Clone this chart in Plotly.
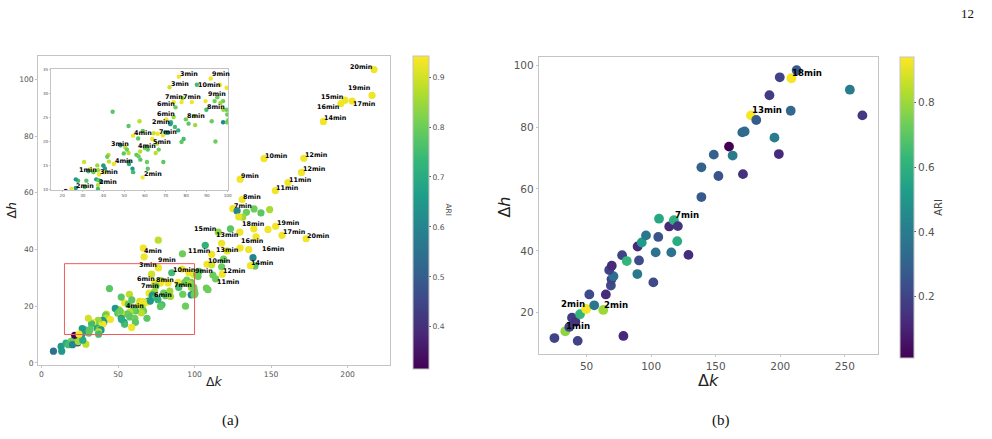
import plotly.graph_objects as go

W, H = 992, 439

# ---------------- panel (a) data ----------------
# points outside the zoom window (upper / right part)
up_dk = [217.3, 216.0, 203.0, 198.3, 195.7, 184.2, 145.4, 171.4, 169.9, 161.0,
         152.8, 129.8, 131.1, 125.0, 127.8, 133.9, 131.5, 128.9, 138.9, 143.4,
         149.1, 123.5, 115.5, 129.6, 138.7, 140.2, 148.0, 153.0, 157.1, 172.9,
         117.7, 129.8, 135.4, 121.3, 111.2, 107.0, 92.1, 76.3, 66.5, 67.0,
         138.2, 139.5, 136.5, 119.0, 108.1, 111.2, 117.7, 118.1, 113.8, 102.9,
         112.0, 102.3, 107.7, 108.8, 100.3, 101.4]
up_dh = [103.5, 94.4, 92.4, 92.7, 91.5, 85.2, 72.1, 72.2, 67.2, 63.6,
         60.8, 64.8, 57.6, 54.4, 53.6, 53.1, 51.4, 51.5, 54.3, 52.9,
         54.1, 47.3, 46.1, 46.1, 47.3, 44.5, 47.1, 48.2, 45.0, 43.8,
         42.2, 40.5, 40.0, 39.5, 38.3, 41.5, 38.5, 43.3, 40.5, 37.4,
         37.1, 34.2, 34.3, 36.6, 34.8, 34.6, 33.9, 31.3, 29.6, 32.3,
         31.0, 30.5, 26.4, 25.8, 24.4, 31.2]
up_ari = [0.93, 0.93, 0.93, 0.93, 0.93, 0.93, 0.93, 0.93, 0.93, 0.93,
          0.93, 0.93, 0.93, 0.93, 0.60, 0.80, 0.85, 0.92, 0.80, 0.78,
          0.86, 0.78, 0.84, 0.93, 0.93, 0.93, 0.93, 0.93, 0.93, 0.93,
          0.93, 0.93, 0.93, 0.93, 0.93, 0.72, 0.80, 0.88, 0.93, 0.93,
          0.60, 0.78, 0.93, 0.80, 0.93, 0.90, 0.80, 0.93, 0.80, 0.78,
          0.80, 0.80, 0.80, 0.80, 0.80, 0.80]
up_lab_idx = [0, 1, 2, 3, 4, 5, 6, 7, 8, 9, 10, 11, 12, 13, 22, 23, 24, 27, 28, 29,
              31, 32, 33, 34, 38, 42, 44, 47, 48]
up_lab_txt = ["20min", "19min", "17min", "15min", "16min", "14min", "10min", "12min", "12min", "11min",
              "11min", "9min", "8min", "7min", "15min", "13min", "18min", "19min", "17min", "20min",
              "16min", "16min", "13min", "11min", "4min", "14min", "10min", "12min", "11min"]

# points below the zoom window
lo_dk = [7.8, 12.8, 13.2, 16.0, 19.3, 17.5, 21.4, 23.6, 20.3, 29.0, 25.8, 24.0, 27.0, 21.7]
lo_dh = [4.1, 5.8, 4.1, 7.0, 7.6, 6.4, 8.4, 7.0, 6.4, 6.6, 8.9, 7.5, 8.0, 9.7]
lo_ari = [0.55, 0.65, 0.65, 0.70, 0.80, 0.75, 0.80, 0.45, 0.60, 0.88, 0.78, 0.85, 0.70, 0.32]

# points inside the zoom window (15<dk<100, 10<dh<35)
in_dk = [76.4, 91.8, 71.9, 85.1, 96.3, 99.5, 73.9, 78.2, 77.7, 82.7,
         89.3, 93.7, 95.0, 97.8, 96.5, 74.8, 89.7, 97.9, 99.5, 99.8,
         70.3, 73.9, 79.8, 83.8, 81.1, 84.3, 92.3, 97.8, 99.7, 72.6,
         72.3, 74.5, 76.1, 54.3, 56.7, 64.3, 66.2, 69.7, 68.7, 71.1,
         78.7, 77.7, 94.1, 63.6, 65.9, 66.7, 65.2, 68.9, 60.9, 61.4,
         60.1, 57.7, 55.9, 56.9, 57.8, 50.5, 48.2, 49.8, 52.1, 51.3,
         61.0, 61.4, 58.9, 54.0, 54.3, 52.1, 52.3, 44.4, 52.1, 57.4,
         59.0, 42.4, 41.8, 42.6, 45.0, 40.2, 39.9, 40.7, 40.2, 37.3,
         37.0, 37.8, 35.1, 33.5, 32.7, 30.6, 27.7, 26.6, 31.7, 36.5,
         37.6, 38.9, 37.3, 30.9, 26.6, 24.5, 37.3]
in_dh = [33.5, 33.1, 31.3, 31.8, 31.8, 31.2, 28.2, 29.0, 28.2, 28.2,
         28.4, 28.4, 29.2, 28.4, 28.0, 27.1, 26.6, 26.6, 26.6, 25.6,
         24.6, 25.1, 24.6, 25.3, 23.7, 23.4, 24.2, 24.0, 24.0, 24.0,
         23.6, 23.0, 22.3, 21.2, 20.6, 21.7, 21.6, 21.8, 21.3, 21.8,
         20.5, 19.9, 20.0, 20.5, 19.5, 18.3, 17.6, 15.7, 18.8, 18.3,
         18.6, 17.9, 17.2, 16.9, 16.2, 18.8, 19.2, 17.5, 17.6, 18.3,
         15.7, 14.3, 12.5, 14.3, 13.6, 15.7, 15.3, 26.2, 23.2, 24.2,
         22.2, 17.2, 16.8, 15.8, 15.3, 14.8, 15.0, 14.3, 13.6, 14.0,
         15.0, 13.1, 13.6, 14.2, 13.8, 15.7, 11.8, 12.1, 11.8, 12.1,
         11.9, 11.6, 10.9, 10.5, 10.3, 10.1, 10.1]
in_ari = [0.93, 0.93, 0.90, 0.75, 0.93, 0.93, 0.93, 0.85, 0.93, 0.93,
          0.93, 0.80, 0.80, 0.80, 0.85, 0.80, 0.75, 0.85, 0.80, 0.80,
          0.93, 0.85, 0.80, 0.85, 0.78, 0.85, 0.80, 0.60, 0.80, 0.72,
          0.65, 0.75, 0.72, 0.93, 0.78, 0.90, 0.93, 0.70, 0.93, 0.65,
          0.75, 0.78, 0.80, 0.93, 0.88, 0.80, 0.88, 0.78, 0.75, 0.78,
          0.80, 0.88, 0.78, 0.80, 0.78, 0.88, 0.65, 0.78, 0.88, 0.80,
          0.80, 0.78, 0.93, 0.65, 0.75, 0.65, 0.70, 0.78, 0.78, 0.88,
          0.78, 0.88, 0.80, 0.88, 0.93, 0.85, 0.65, 0.65, 0.93, 0.85,
          0.85, 0.93, 0.80, 0.93, 0.75, 0.90, 0.75, 0.66, 0.78, 0.66,
          0.78, 0.65, 0.88, 0.78, 0.65, 0.93, 0.75]
in_main_lab_idx = [0, 1, 3, 5, 6, 8, 9, 15, 29, 33]
in_main_lab_txt = ["3min", "9min", "10min", "9min", "8min", "7min", "7min", "6min", "6min", "4min"]
in_inset_lab_idx = [0, 1, 2, 3, 5, 6, 9, 15, 16, 20, 22, 29, 33, 39, 43, 48, 56, 62, 74, 81, 84, 92, 93]
in_inset_lab_txt = ["3min", "9min", "3min", "10min", "9min", "7min", "7min", "6min", "8min", "6min",
                    "8min", "2min", "4min", "7min", "5min", "4min", "3min", "2min", "4min", "3min",
                    "1min", "2min", "2min"]

# zoom window shown in the inset
win_dk = [15, 100]
win_dh = [10, 35]

a_xticks = [0, 50, 100, 150, 200]
a_yticks = [0, 20, 40, 60, 80, 100]
inset_xticks = [20, 30, 40, 50, 60, 70, 80, 90, 100]
inset_yticks = [10, 15, 20, 25, 30, 35]
a_cticks = [0.4, 0.5, 0.6, 0.7, 0.8, 0.9]

# ---------------- panel (b) data ----------------
b_dk = [25.1, 43.1, 78.5, 33.5, 36.6, 38.7, 41.3, 44.9, 49.7, 55.9,
        62.9, 52.1, 64.9, 68.8, 69.3, 70.8, 67.5, 69.5, 77.5, 81.1,
        89.3, 90.6, 89.5, 92.7, 96.0, 101.7, 103.5, 105.5, 106.1, 114.0,
        115.6, 117.6, 120.7, 120.2, 128.9, 138.9, 138.9, 148.5, 152.1, 160.3,
        163.1, 171.1, 170.6, 172.4, 177.3, 181.4, 191.6, 195.5, 198.9, 199.6,
        208.1, 208.6, 212.7, 253.9, 263.6]
b_dh = [11.8, 10.9, 12.5, 14.0, 15.4, 18.4, 17.1, 19.5, 21.2, 22.4,
        20.9, 25.9, 25.9, 28.8, 30.8, 31.8, 33.8, 35.2, 38.6, 36.7,
        32.5, 36.9, 41.4, 42.7, 45.0, 29.8, 39.5, 44.5, 50.4, 47.9,
        39.5, 49.9, 48.0, 43.1, 38.7, 57.4, 67.0, 71.1, 64.2, 73.7,
        70.8, 64.8, 78.3, 78.6, 83.8, 82.3, 90.3, 76.6, 71.3, 96.1,
        85.3, 95.8, 98.4, 92.1, 83.8]
b_ari = [0.20, 0.20, 0.12, 0.78, 0.20, 0.18, 0.15, 0.62, 0.93, 0.38,
         0.80, 0.22, 0.12, 0.22, 0.20, 0.35, 0.20, 0.12, 0.20, 0.62,
         0.38, 0.22, 0.12, 0.52, 0.38, 0.22, 0.36, 0.25, 0.57, 0.12,
         0.36, 0.60, 0.15, 0.58, 0.13, 0.27, 0.30, 0.30, 0.25, 0.01,
         0.40, 0.14, 0.32, 0.33, 0.93, 0.28, 0.18, 0.40, 0.12, 0.20,
         0.32, 0.93, 0.27, 0.40, 0.17]
b_lab_idx = [3, 8, 10, 31, 44, 51]
b_lab_txt = ["1min", "2min", "2min", "7min", "13min", "18min"]
b_xticks = [50, 100, 150, 200, 250]
b_yticks = [20, 40, 60, 80, 100]
b_cticks = [0.2, 0.4, 0.6, 0.8]

# ---------------- label placement (style) ----------------
up_lab_pos = ["l", "lu", "rd", "l", "ld", "r", "r", "r", "r", "r",
              "r", "r", "r", "r", "l", "ld", "c", "r", "r", "r",
              "ru", "rr", "cm", "l", "rd", "r", "r", "r", "rd"]
in_main_lab_pos = ["l", "luu", "r", "r", "r", "ld", "rdd", "lu", "rm", "rd"]
in_inset_lab_pos = ["r", "r5", "r", "rm", "ldd", "c", "c", "l", "r", "c",
                    "r", "lm", "r", "cm", "rd", "cm", "cm", "r", "r", "r",
                    "cm", "r", "cm"]
b_lab_pos = ["r", "l", "r", "r", "r", "r"]

assert len(up_dk) == len(up_dh) == len(up_ari)
assert len(lo_dk) == len(lo_dh) == len(lo_ari)
assert len(in_dk) == len(in_dh) == len(in_ari)
assert len(b_dk) == len(b_dh) == len(b_ari)
assert len(up_lab_idx) == len(up_lab_txt) == len(up_lab_pos)
assert len(in_main_lab_idx) == len(in_main_lab_txt) == len(in_main_lab_pos)
assert len(in_inset_lab_idx) == len(in_inset_lab_txt) == len(in_inset_lab_pos)

a_dk = lo_dk + in_dk + up_dk
a_dh = lo_dh + in_dh + up_dh
a_ari = lo_ari + in_ari + up_ari


def px(v):
    return v / W


def py(v):
    return (H - v) / H


fig = go.Figure()

fig.add_trace(go.Scatter(x=a_dk, y=a_dh, mode="markers", xaxis="x", yaxis="y",
                         marker=dict(color=a_ari, coloraxis="coloraxis", size=7.2,
                                     line=dict(width=0)),
                         hoverinfo="skip"))
fig.add_trace(go.Scatter(x=a_dk, y=a_dh, mode="markers", xaxis="x2", yaxis="y2",
                         marker=dict(color=a_ari, coloraxis="coloraxis", size=4.4,
                                     line=dict(width=0)),
                         hoverinfo="skip"))
fig.add_trace(go.Scatter(x=b_dk, y=b_dh, mode="markers", xaxis="x3", yaxis="y3",
                         marker=dict(color=b_ari, coloraxis="coloraxis2", size=9.8,
                                     line=dict(width=0)),
                         hoverinfo="skip"))

# code -> (xanchor, xshift px, yshift px)
OFF = {"r": ("left", 0, 3), "r5": ("left", 0, 5), "ru": ("left", 0, 7), "rd": ("left", 0, -3),
       "rm": ("left", 0, 0), "rr": ("left", 12, 0), "rdd": ("left", 5, -2),
       "l": ("right", 0, 3), "lu": ("right", 0, 7), "ld": ("right", 0, -3),
       "ldd": ("right", 0, -6), "lm": ("right", 0, 0), "luu": ("right", -5, 9),
       "c": ("center", 0, 5), "cm": ("center", 0, 1)}


def add_labels(xs, ys, idx, txt, pos, xref, yref, size, lift=0):
    for i, t, p in zip(idx, txt, pos):
        xa, dx, dy = OFF[p]
        fig.add_annotation(x=xs[i], y=ys[i], xref=xref, yref=yref,
                           text="<b>" + t + "</b>", showarrow=False,
                           xanchor=xa, yanchor="middle", xshift=dx, yshift=dy + lift,
                           borderpad=0,
                           font=dict(size=size, color="black", family="DejaVu Sans"))


add_labels(up_dk, up_dh, up_lab_idx, up_lab_txt, up_lab_pos, "x", "y", 6.4)
add_labels(in_dk, in_dh, in_main_lab_idx, in_main_lab_txt, in_main_lab_pos, "x", "y", 6.4)
add_labels(in_dk, in_dh, in_inset_lab_idx, in_inset_lab_txt, in_inset_lab_pos, "x2", "y2", 6.4)
add_labels(b_dk, b_dh, b_lab_idx, b_lab_txt, b_lab_pos, "x3", "y3", 8.6, lift=2)

fig.add_shape(type="rect", xref="x", yref="y", x0=win_dk[0], x1=win_dk[1],
              y0=win_dh[0], y1=win_dh[1], line=dict(color="#f25b5b", width=1))

FRAME = "#c4c4c4"
TICKC = "#555555"


def axis(domain, rng, ticks, size, ticklen=2):
    return dict(domain=domain, range=rng, tickvals=ticks, showline=True, mirror=True,
                linecolor=FRAME, linewidth=1, showgrid=False, zeroline=False,
                ticks="outside", ticklen=ticklen, tickcolor=FRAME, tickwidth=1,
                tickfont=dict(size=size, color=TICKC, family="DejaVu Sans"),
                fixedrange=True)


pad_k, pad_h = 0.35, 0.15
fig.update_layout(
    width=W, height=H, margin=dict(l=0, r=0, t=0, b=0),
    paper_bgcolor="white", plot_bgcolor="white", showlegend=False,
    xaxis=dict(axis([px(38.3), px(392)], [-2.2, 228], a_xticks, 7.6), anchor="y"),
    yaxis=dict(axis([py(367), py(54.3)], [-0.7, 108.4], a_yticks, 7.6), anchor="x"),
    xaxis2=dict(axis([px(51.3), px(229.3)], [win_dk[0] - pad_k, win_dk[1] + pad_k],
                     inset_xticks, 4.2, 1), anchor="y2"),
    yaxis2=dict(axis([py(190.3), py(67.5)], [win_dh[0] - pad_h, win_dh[1] + pad_h],
                     inset_yticks, 4.2, 1), anchor="x2"),
    xaxis3=dict(axis([px(541), px(881.7)], [13.0, 275.8], b_xticks, 10.5), anchor="y3"),
    yaxis3=dict(axis([py(356), py(55.7)], [6.67, 102.65], b_yticks, 10.5), anchor="x3"),
    coloraxis=dict(colorscale="Viridis", cmin=0.316, cmax=0.943,
                   colorbar=dict(x=px(415), xanchor="left", y=py(54.3), yanchor="top",
                                 len=313.4, lenmode="pixels", thickness=16,
                                 thicknessmode="pixels", xpad=0, ypad=0,
                                 outlinewidth=1, outlinecolor=FRAME,
                                 tickvals=a_cticks, ticks="outside", ticklen=2,
                                 tickcolor=TICKC,
                                 tickfont=dict(size=7.6, color=TICKC, family="DejaVu Sans"))),
    coloraxis2=dict(colorscale="Viridis", cmin=0.01, cmax=0.94,
                    colorbar=dict(x=px(903.3), xanchor="left", y=py(55.7), yanchor="top",
                                  len=301, lenmode="pixels", thickness=13.7,
                                  thicknessmode="pixels", xpad=0, ypad=0,
                                  outlinewidth=1, outlinecolor=FRAME,
                                  tickvals=b_cticks, ticks="outside", ticklen=2,
                                  tickcolor=TICKC,
                                  tickfont=dict(size=10.5, color=TICKC, family="DejaVu Sans"))),
)


def paper_text(x, y, text, size, family="DejaVu Sans", color="#222", angle=0):
    fig.add_annotation(x=px(x), y=py(y), xref="paper", yref="paper", text=text,
                       showarrow=False, xanchor="center", yanchor="middle",
                       textangle=angle, font=dict(size=size, family=family, color=color))


paper_text(215, 384, "Δ<i>k</i>", 12.5)
paper_text(12, 210, "Δ<i>h</i>", 12.5, angle=-90)
paper_text(711, 383, "Δ<i>k</i>", 16)
paper_text(507, 207, "Δ<i>h</i>", 16, angle=-90)
paper_text(450, 210, "ARI", 7.5, color="#444", angle=90)
paper_text(942, 208, "ARI", 10, color="#444", angle=-90)
paper_text(971, 12, "12", 13, family="Liberation Serif", color="#111")
paper_text(231, 423, "(a)", 15, family="Liberation Serif", color="#111")
paper_text(724, 423, "(b)", 15, family="Liberation Serif", color="#111")

fig.write_html("out.html")
